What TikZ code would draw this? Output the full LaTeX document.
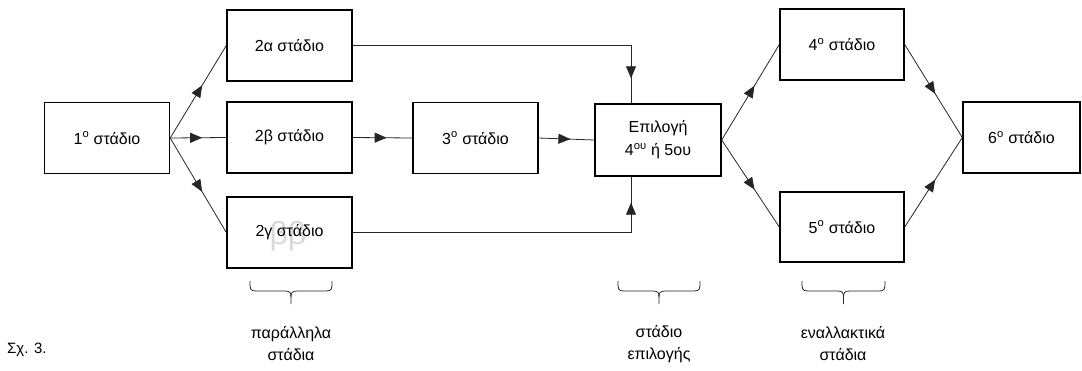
\documentclass[tikz,border=0pt]{standalone}
\usepackage{fontspec}
\setmainfont{Liberation Sans}
\usetikzlibrary{arrows.meta,decorations.markings}

% curly bracket under a group of stages: left x, right x, top y
\newcommand\groupbrace[3]{%
  \draw[stagebrace] (#1,#3) .. controls (#1,{#3+8}) and (#1,{#3+10}) .. ({#1+6},{#3+10})
    -- ({(#1+#2)/2-6},{#3+10}) .. controls ({(#1+#2)/2-1},{#3+10}) and ({(#1+#2)/2},{#3+12}) .. ({(#1+#2)/2},{#3+16})
    -- ({(#1+#2)/2},{#3+23});
  \draw[stagebrace] (#2,#3) .. controls (#2,{#3+8}) and (#2,{#3+10}) .. ({#2-6},{#3+10})
    -- ({(#1+#2)/2+6},{#3+10}) .. controls ({(#1+#2)/2+1},{#3+10}) and ({(#1+#2)/2},{#3+12}) .. ({(#1+#2)/2},{#3+16});
}

\begin{document}
\begin{tikzpicture}[x=1pt,y=-1pt,
  stagebox/.style={draw=black,line width=1.4pt,minimum width=125pt,minimum height=71pt,
    inner sep=0pt,font=\fontsize{16}{23}\selectfont,align=center},
  flow/.style={draw=black!85,line width=0.8pt,postaction={decorate},
    decoration={markings,mark=at position #1 with {\arrow{Triangle[length=12pt,width=10pt]}}}},
  flow/.default=0.57,
  stagebrace/.style={draw=black!85,line width=0.8pt},
  grouplabel/.style={font=\fontsize{16}{22}\selectfont,align=center,inner sep=0pt},
]
\useasboundingbox (0,0) rectangle (1082,370);

% faint glyphs behind the 2γ label
\node[font=\fontsize{32}{32}\selectfont,text=gray!30,inner sep=0pt] (ghost) at (288,236) {ββ};

% stages
\node[stagebox] (s1)  at (107,138)   {1\textsuperscript{ο} στάδιο};
\node[stagebox] (s2a) at (289.5,45.5) {2α στάδιο};
\node[stagebox] (s2b) at (289.5,137.5) {2β στάδιο};
\node[stagebox] (s2g) at (289.5,232.5) {2γ στάδιο};
\node[stagebox] (s3)  at (475.5,138) {3\textsuperscript{ο} στάδιο};
\node[stagebox,minimum width=126pt,minimum height=72pt] (sel) at (658,140)
  {Επιλογή\\4\textsuperscript{ου} ή 5ου};
\node[stagebox,minimum width=124pt] (s4) at (842,44.5) {4\textsuperscript{ο} στάδιο};
\node[stagebox,minimum width=124pt,minimum height=70pt] (s5) at (842,227) {5\textsuperscript{ο} στάδιο};
\node[stagebox,minimum width=117pt] (s6) at (1021.5,137.5) {6\textsuperscript{ο} στάδιο};

% connectors
\draw[flow] (s1.east) -- (s2a.west);
\draw[flow] (s1.east) -- (s2b.west);
\draw[flow] (s1.east) -- (s2g.west);
\draw[flow] (s2b.east) -- (s3.west);
\draw[flow] (s3.east) -- (sel.west);
\draw[flow=-25pt] (s2a.east) -| ([xshift=-27pt]sel.north);
\draw[flow=-26pt] (s2g.east) -| ([xshift=-27pt]sel.south);
\draw[flow] (sel.east) -- (s4.west);
\draw[flow] (sel.east) -- (s5.west);
\draw[flow=0.53] (s4.east) -- (s6.west);
\draw[flow=0.53] (s5.east) -- (s6.west);

% groups
\groupbrace{250}{332}{281}
\groupbrace{618}{700}{281}
\groupbrace{802}{885}{281}
\node[grouplabel] (gpar) at (291,344) {παράλληλα\\στάδια};
\node[grouplabel] (gsel) at (659,344) {στάδιο\\επιλογής};
\node[grouplabel] (galt) at (843,344) {εναλλακτικά\\στάδια};

% caption
\node[anchor=west,font=\fontsize{15}{17}\selectfont,inner sep=0pt] (cap) at (7,350) {Σχ. 3.};
\end{tikzpicture}
\end{document}
